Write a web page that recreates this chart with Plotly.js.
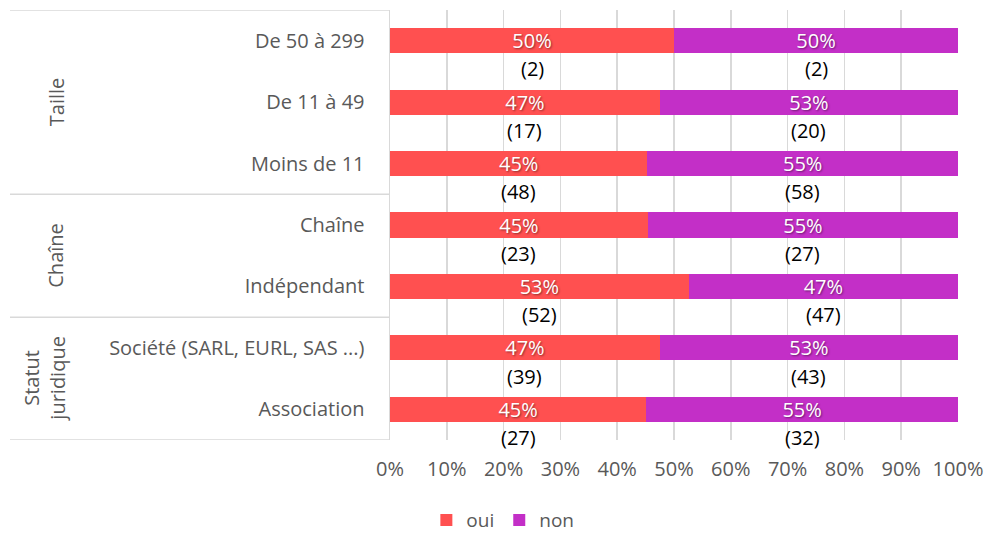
<!DOCTYPE html>
<html>
<head>
<meta charset="utf-8">
<script src="https://cdn.plot.ly/plotly-3.0.1.min.js"></script>
<style>
  html, body { margin: 0; padding: 0; background: #fff; }
  #chart { width: 986px; height: 533px; }
</style>
</head>
<body>
<div id="chart"></div>
<script>
// categories, top to bottom
let categories = ['De 50 à 299', 'De 11 à 49', 'Moins de 11', 'Chaîne', 'Indépendant', 'Société (SARL, EURL, SAS ...)', 'Association'];
let groupNames = ['Taille', 'Chaîne', 'Statut<br>juridique'];
let groupSizes = [3, 2, 2];

// share of answers (percent)
let ouiPct = [50, 47.5, 45.3, 45.4, 52.6, 47.5, 45.1];
let nonPct = [50, 52.5, 54.7, 54.6, 47.4, 52.5, 54.9];
let ouiLabels = ['50%', '47%', '45%', '45%', '53%', '47%', '45%'];
let nonLabels = ['50%', '53%', '55%', '55%', '47%', '53%', '55%'];

// number of answers shown under each segment
let ouiCounts = [2, 17, 48, 23, 52, 39, 27];
let nonCounts = [2, 20, 58, 27, 47, 43, 32];

let xTicks = [0, 10, 20, 30, 40, 50, 60, 70, 80, 90, 100];

let font = '"Open Sans", "DejaVu Sans", sans-serif';
let grey = '#595959';
let lineGrey = '#d9d9d9';
let fs = 20;

let yPos = categories.map((c, i) => i);

let trace1 = {
    type: 'bar', orientation: 'h', name: 'oui',
    x: ouiPct, y: yPos, width: 0.41,
    text: ouiLabels, textposition: 'inside', insidetextanchor: 'middle', textangle: 0, constraintext: 'none',
    textfont: { color: '#ffffff', size: fs, family: font, shadow: '1px 1px 2px rgba(0,0,0,0.45)' },
    marker: { color: '#ff5050', line: { width: 0 } },
    hoverinfo: 'skip'
};
let trace2 = {
    type: 'bar', orientation: 'h', name: 'non',
    x: nonPct, y: yPos, width: 0.41,
    text: nonLabels, textposition: 'inside', insidetextanchor: 'middle', textangle: 0, constraintext: 'none',
    textfont: { color: '#ffffff', size: fs, family: font, shadow: '1px 1px 2px rgba(0,0,0,0.45)' },
    marker: { color: '#c32fc7', line: { width: 0 } },
    hoverinfo: 'skip'
};

let annotations = [];
for (let i = 0; i < categories.length; i++) {
    annotations.push({ x: ouiPct[i] / 2, y: i + 0.46, xref: 'x', yref: 'y', text: '(' + ouiCounts[i] + ')', showarrow: false, font: { size: fs, color: '#000', family: font } });
    annotations.push({ x: ouiPct[i] + nonPct[i] / 2, y: i + 0.46, xref: 'x', yref: 'y', text: '(' + nonCounts[i] + ')', showarrow: false, font: { size: fs, color: '#000', family: font } });
}

// group labels on the left and the lines between groups
let shapes = [];
let start = -0.5;
shapes.push({ type: 'line', xref: 'paper', yref: 'y', x0: -0.669, x1: 0, y0: start, y1: start, line: { color: lineGrey, width: 1.5 } });
for (let g = 0; g < groupNames.length; g++) {
    let end = start + groupSizes[g];
    let twoLines = groupNames[g].indexOf('<br>') >= 0;
    annotations.push({
        xref: 'paper', yref: 'y', x: twoLines ? -0.609 : -0.588, y: (start + end) / 2,
        xanchor: 'center', yanchor: 'middle',
        text: groupNames[g], textangle: -90, showarrow: false,
        font: { size: fs, color: grey, family: font }
    });
    shapes.push({ type: 'line', xref: 'paper', yref: 'y', x0: -0.669, x1: 0, y0: end, y1: end, line: { color: lineGrey, width: 1.5 } });
    start = end;
}

let layout = {
    width: 986, height: 533,
    margin: { l: 390, r: 28, t: 10, b: 93 },
    paper_bgcolor: '#fff', plot_bgcolor: '#fff',
    barmode: 'stack', bargap: 0.5,
    showlegend: true,
    font: { family: font, color: grey, size: fs },
    xaxis: {
        range: [0, 100], tickvals: xTicks, ticktext: xTicks.map(v => v + '%'),
        showgrid: true, gridcolor: lineGrey, gridwidth: 1.5, zeroline: false, showline: false,
        ticks: '', ticklabelstandoff: 15,
        tickfont: { size: fs, color: grey, family: font }, fixedrange: true
    },
    yaxis: {
        range: [6.5, -0.5], tickvals: yPos, ticktext: categories,
        showgrid: false, zeroline: false, showline: true, linecolor: lineGrey, linewidth: 1.5,
        ticks: '', ticklabelstandoff: 20,
        tickfont: { size: fs, color: grey, family: font }, fixedrange: true
    },
    legend: {
        orientation: 'h', xref: 'container', yref: 'container', x: 0.51, y: 0.024,
        xanchor: 'center', yanchor: 'middle', font: { size: 19, color: grey, family: font },
        itemwidth: 30, traceorder: 'normal', tracegroupgap: 0
    },
    annotations: annotations,
    shapes: shapes
};

Plotly.newPlot('chart', [trace1, trace2], layout, { staticPlot: true, displayModeBar: false });
</script>
</body>
</html>
